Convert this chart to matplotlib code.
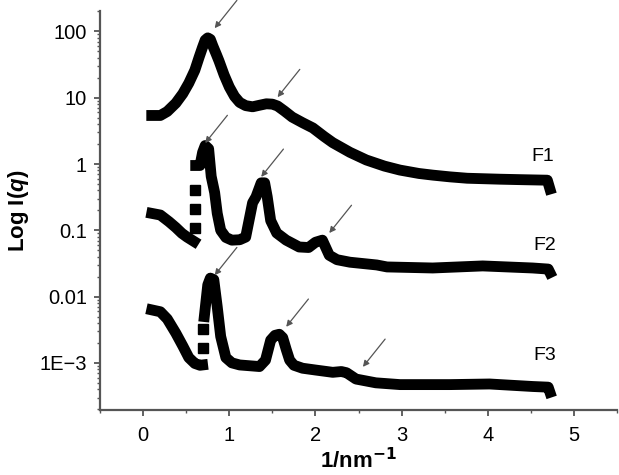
import matplotlib
matplotlib.use('Agg')
import matplotlib.pyplot as plt
from matplotlib.ticker import FixedLocator, FixedFormatter, LogLocator, MultipleLocator, NullFormatter

plt.rcParams['font.family'] = ['Liberation Sans', 'DejaVu Sans']
plt.rcParams['mathtext.fontset'] = 'custom'
plt.rcParams['mathtext.it'] = 'Liberation Sans:italic:bold'
plt.rcParams['mathtext.rm'] = 'Liberation Sans:bold'

# F1 曲线
f1_x = [0.10, 0.20, 0.28, 0.38, 0.46, 0.53, 0.60, 0.65, 0.69, 0.72, 0.75, 0.78, 0.81, 0.85,
        0.88, 0.94, 1.00, 1.06, 1.12, 1.19, 1.27, 1.35, 1.43, 1.50, 1.56, 1.64, 1.73, 1.85,
        1.97, 2.10, 2.20, 2.40, 2.59, 2.80, 2.98, 3.20, 3.36, 3.56, 3.76, 4.14, 4.40, 4.69, 4.72]
f1_y = [5.4, 5.4, 6.2, 8.3, 11.5, 16.6, 26, 41, 58, 74, 80, 76, 60, 45,
        36, 22, 14.5, 10.5, 8.5, 7.6, 7.3, 7.7, 8.1, 8.0, 7.5, 6.3, 5.1, 4.2,
        3.5, 2.6, 2.1, 1.5, 1.15, 0.93, 0.81, 0.72, 0.68, 0.64, 0.61, 0.59, 0.58, 0.57, 0.42]

# F2 曲线（跳变前 / 跳变点 / 跳变后）
f2_x1 = [0.10, 0.20, 0.30, 0.38, 0.45, 0.51, 0.59]
f2_y1 = [0.18, 0.17, 0.135, 0.11, 0.09, 0.079, 0.068]
f2_jx = [0.605, 0.605, 0.605]
f2_jy = [0.11, 0.21, 0.41]
f2_x2 = [0.61, 0.66, 0.69, 0.72, 0.76, 0.79, 0.83, 0.86, 0.90, 0.96, 1.03, 1.12, 1.19, 1.27,
         1.31, 1.37, 1.41, 1.44, 1.48, 1.55, 1.66, 1.81, 1.92, 2.00, 2.08, 2.16, 2.25, 2.40,
         2.71, 2.83, 3.36, 3.94, 4.52, 4.70, 4.72]
f2_y2 = [0.95, 0.95, 1.5, 1.9, 1.7, 0.65, 0.37, 0.18, 0.10, 0.078, 0.071, 0.072, 0.079, 0.26,
         0.32, 0.52, 0.52, 0.32, 0.14, 0.091, 0.071, 0.056, 0.055, 0.066, 0.071, 0.042, 0.036,
         0.033, 0.030, 0.028, 0.027, 0.029, 0.027, 0.026, 0.023]

# F3 曲线
f3_x1 = [0.10, 0.20, 0.28, 0.38, 0.46, 0.53, 0.60, 0.66, 0.69]
f3_y1 = [0.0063, 0.0059, 0.0046, 0.0028, 0.0018, 0.0012, 0.00098, 0.00092, 0.00093]
f3_jx = [0.70, 0.70]
f3_jy = [0.0017, 0.0032]
f3_x2 = [0.71, 0.75, 0.78, 0.82, 0.86, 0.90, 0.96, 1.03, 1.12, 1.35, 1.42, 1.48, 1.53, 1.58,
         1.62, 1.66, 1.70, 1.75, 1.85, 2.00, 2.20, 2.30, 2.36, 2.47, 2.70, 2.98, 3.56, 4.02,
         4.52, 4.70, 4.72]
f3_y2 = [0.005, 0.015, 0.019, 0.018, 0.007, 0.0025, 0.0012, 0.001, 0.00093, 0.00088, 0.0011,
         0.0022, 0.0026, 0.0027, 0.0024, 0.0016, 0.0011, 0.00092, 0.00083, 0.00078, 0.00072,
         0.00074, 0.00071, 0.00057, 0.0005, 0.00047, 0.00047, 0.00048, 0.00044, 0.00043, 0.00036]

# 箭头所指位置
arrow_x = [0.83, 1.56, 0.72, 1.37, 2.16, 0.83, 1.66, 2.55]
arrow_y = [112, 10.2, 2.07, 0.64, 0.091, 0.021, 0.0035, 0.00087]

# 曲线标签
label_names = ['F1', 'F2', 'F3']
label_x = [4.77, 4.79, 4.79]
label_y = [1.3, 0.06, 0.0013]

y_ticks = [1e-3, 1e-2, 1e-1, 1, 10, 100]
y_ticklabels = ['1E\u22123', '0.01', '0.1', '1', '10', '100']

fig = plt.figure(figsize=(6.19, 4.75), dpi=100)
ax = fig.add_axes([0.1616, 0.137, 0.8354, 0.84])

lw = 7.8
ax.plot(f1_x, f1_y, color='black', lw=lw, solid_joinstyle='round')
ax.plot(f2_x1, f2_y1, color='black', lw=lw, solid_joinstyle='round')
ax.plot(f2_jx, f2_jy, color='black', ls='none', marker='s', ms=6.5)
ax.plot(f2_x2, f2_y2, color='black', lw=lw, solid_joinstyle='round')
ax.plot(f3_x1, f3_y1, color='black', lw=lw, solid_joinstyle='round')
ax.plot(f3_jx, f3_jy, color='black', ls='none', marker='s', ms=6.5)
ax.plot(f3_x2, f3_y2, color='black', lw=lw, solid_joinstyle='round')

for xa, ya in zip(arrow_x, arrow_y):
    ax.annotate('', xy=(xa, ya), xytext=(16, 20), textcoords='offset points',
                arrowprops=dict(arrowstyle='-|>', color='#555555', lw=0.9,
                                mutation_scale=9, shrinkA=0, shrinkB=0))

for name, lx, ly in zip(label_names, label_x, label_y):
    ax.text(lx, ly, name, fontsize=14, ha='right', va='center')

ax.set_yscale('log')
ax.set_xlim(-0.5, 5.5)
ax.set_ylim(1.95e-4, 204)
ax.yaxis.set_major_locator(FixedLocator(y_ticks))
ax.yaxis.set_major_formatter(FixedFormatter(y_ticklabels))
ax.yaxis.set_minor_locator(LogLocator(base=10, subs=range(2, 10)))
ax.yaxis.set_minor_formatter(NullFormatter())
ax.xaxis.set_major_locator(MultipleLocator(1))
ax.xaxis.set_minor_locator(MultipleLocator(0.5))

for s in ['top', 'right']:
    ax.spines[s].set_visible(False)
for s in ['left', 'bottom']:
    ax.spines[s].set_color('#555555')
    ax.spines[s].set_linewidth(1.6)

ax.tick_params(which='major', direction='out', length=4.5, width=1.3, color='#555555',
               labelsize=14.5)
ax.tick_params(which='minor', direction='out', length=2.3, width=1.0, color='#555555')
ax.tick_params(axis='x', which='major', pad=7)
ax.tick_params(axis='y', which='major', pad=5)

ax.set_ylabel('Log I($q$)', fontsize=16, fontweight='bold', labelpad=6)
ax.set_xlabel('1/nm$^{\\mathbf{-1}}$', fontsize=16, fontweight='bold', labelpad=2)

fig.savefig('out.png', dpi=100)
